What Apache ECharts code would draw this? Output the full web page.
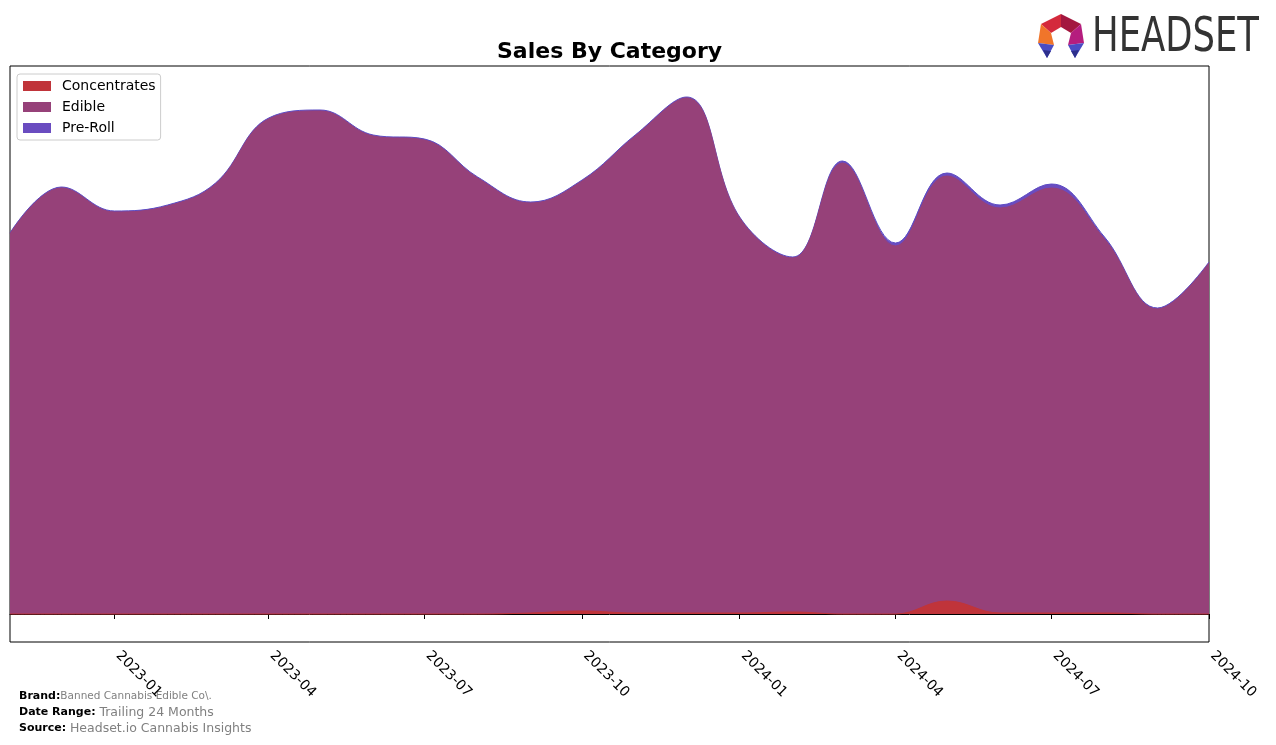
<!DOCTYPE html>
<html>
<head>
<meta charset="utf-8">
<script src="https://cdn.jsdelivr.net/npm/echarts@6/dist/echarts.min.js"></script>
<style>html,body{margin:0;padding:0;background:#fff;}#c{width:1276px;height:745px;}</style>
</head>
<body>
<div id="c"></div>
<script>
// Monthly periods (first of month)
const months = ['2022-11','2022-12','2023-01','2023-02','2023-03','2023-04','2023-05','2023-06','2023-07','2023-08','2023-09','2023-10','2023-11','2023-12','2024-01','2024-02','2024-03','2024-04','2024-05','2024-06','2024-07','2024-08','2024-09','2024-10'];
// Values in relative units (no y-axis labels in reference)
const concentrates = [0,0,0,0,0,0,0,0,0,0,1,3,1,1,1,2,0,0,13,1,1,1,0,0];
const edible       = [380,426,402,408,430,495,503,478,474,436,410,430,477,515,395,354,451,368,425,405,425,374,305,351];
const preRoll      = [1,1,1,1,1,1,1,1,1,1,1,1,1,1,1,1,2,3,3,3,4,2,1,1];
const tickLabels = ['2023-01','2023-04','2023-07','2023-10','2024-01','2024-04','2024-07','2024-10'];

function ts(s){ const p = s.split('-'); return new Date(+p[0], +p[1]-1, 1).getTime(); }
function pad(n){ return n < 10 ? '0'+n : ''+n; }

// Cumulative stack tops (stacked area built from the arrays above)
const layers = [concentrates, edible, preRoll];
const cum = [];
layers.forEach((arr, k) => {
  cum.push(arr.map((v, i) => v + (k > 0 ? cum[k-1][i] : 0)));
});

const chart = echarts.init(document.getElementById('c'), null, {renderer:'canvas'});
const colors = {conc:'#c0343a', edible:'#964179', pre:'#6a4cc0'};

function mk(name, arr, color, lineColor, z){
  return {
    name, type:'line', smooth:0.4, showSymbol:false, symbol:'none', z:z,
    data: months.map((m,i)=>[ts(m), arr[i]]),
    lineStyle:{width:1, color: lineColor || color},
    itemStyle:{color},
    areaStyle:{color, opacity:1, origin:0},
    emphasis:{disabled:true}
  };
}

const tickVals = tickLabels.map(ts);
const option = {
  animation:false,
  backgroundColor:'#fff',
  title:{text:'Sales By Category', left:492, top:36,
    textStyle:{fontFamily:'DejaVu Sans', fontSize:22, fontWeight:'bold', color:'#000'}},
  legend:{
    left:17, top:74, orient:'vertical', itemWidth:28, itemHeight:10, itemGap:7,
    padding:[5,5,5,6], borderColor:'#cccccc', borderWidth:1, borderRadius:3, backgroundColor:'#fff',
    icon:'rect',
    textStyle:{fontFamily:'DejaVu Sans', fontSize:14, color:'#000', padding:[0,0,0,6]},
    data:['Concentrates','Edible','Pre-Roll']
  },
  grid:{left:10, right:67, top:66, bottom:103, show:true, borderColor:'#000', borderWidth:1, backgroundColor:'transparent'},
  xAxis:{
    type:'value', min:ts('2022-11'), max:ts('2024-10'),
    axisLine:{show:true, lineStyle:{color:'#000', width:1}},
    axisTick:{show:true, length:5, lineStyle:{color:'#000'}, customValues: tickVals},
    axisLabel:{show:true, rotate:-45, fontFamily:'DejaVu Sans', fontSize:14, color:'#000', margin:8,
      padding:[0,0,0,5],
      customValues: tickVals,
      formatter:function(v){ const d=new Date(v); return d.getFullYear()+'-'+pad(d.getMonth()+1); }},
    splitLine:{show:false}
  },
  yAxis:{type:'value', min:-28, max:548, show:false, splitLine:{show:false}},
  series:[
    mk('Pre-Roll', cum[2], colors.pre, '#5b4bc4', 2),
    mk('Edible', cum[1], colors.edible, null, 3),
    mk('Concentrates', cum[0], colors.conc, null, 4)
  ],
  graphic:[
    {type:'text', left:19, top:691, style:{
      text:'{b|Brand:}{g|Banned Cannabis Edible Co\\.}',
      rich:{b:{fontFamily:'DejaVu Sans', fontWeight:'bold', fontSize:11, fill:'#000'},
            g:{fontFamily:'DejaVu Sans', fontSize:10.5, fill:'#808080'}}}},
    {type:'text', left:19, top:706, style:{
      text:'{b|Date Range: }{g|Trailing 24 Months}',
      rich:{b:{fontFamily:'DejaVu Sans', fontWeight:'bold', fontSize:11, fill:'#000'},
            g:{fontFamily:'DejaVu Sans', fontSize:12.5, fill:'#808080'}}}},
    {type:'text', left:19, top:722, style:{
      text:'{b|Source: }{g|Headset.io Cannabis Insights}',
      rich:{b:{fontFamily:'DejaVu Sans', fontWeight:'bold', fontSize:11, fill:'#000'},
            g:{fontFamily:'DejaVu Sans', fontSize:12.5, fill:'#808080'}}}},
    // Logo text
    {type:'text', x:1092, y:15, scaleX:0.82, style:{text:'HEADSET', fontFamily:'Liberation Sans Narrow, DejaVu Sans Condensed, sans-serif',
      fontSize:48, fill:'#333333'}},
    // Logo icon
    {type:'polygon', shape:{points:[[1041,24],[1061,14],[1061,27],[1051,33]]}, style:{fill:'#d42a3c'}},
    {type:'polygon', shape:{points:[[1061,14],[1081,24],[1071,33],[1061,27]]}, style:{fill:'#a3173f'}},
    {type:'polygon', shape:{points:[[1081,24],[1084,43],[1068,45],[1071,33]]}, style:{fill:'#b51d7e'}},
    {type:'polygon', shape:{points:[[1041,24],[1051,33],[1054,45],[1038,43]]}, style:{fill:'#f0752a'}},
    {type:'polygon', shape:{points:[[1038,43],[1054,45],[1047,58]]}, style:{fill:'#4a4cc4'}},
    {type:'polygon', shape:{points:[[1068,45],[1084,43],[1075,58]]}, style:{fill:'#4a4cc4'}},
    {type:'polygon', shape:{points:[[1043,50],[1051,51],[1047,58]]}, style:{fill:'#2d2f8c'}},
    {type:'polygon', shape:{points:[[1071,51],[1079,50],[1075,58]]}, style:{fill:'#2d2f8c'}}
  ]
};
chart.setOption(option);
</script>
</body>
</html>
